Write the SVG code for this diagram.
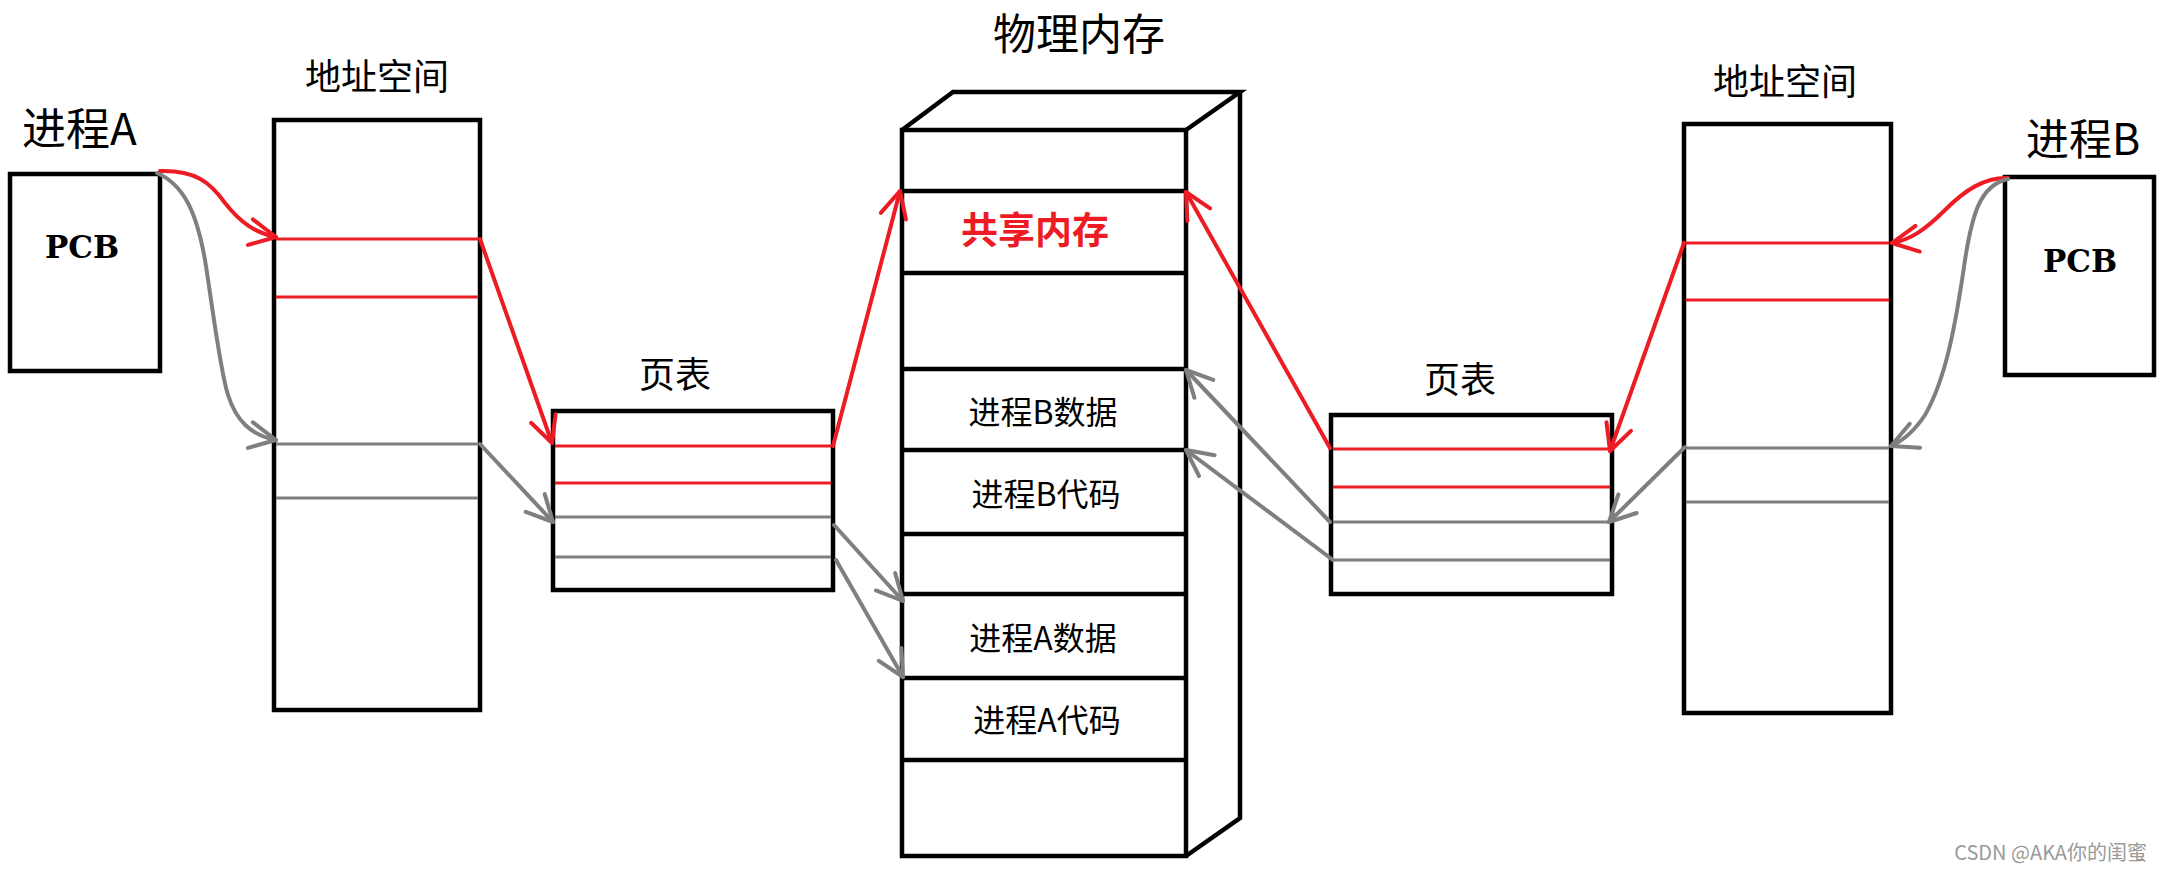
<svg xmlns="http://www.w3.org/2000/svg" width="2162" height="872" viewBox="0 0 2162 872">
<style>
.box{fill:none;stroke:#000;stroke-width:4.5;stroke-linejoin:miter}
.rl{stroke:#ED1C24;stroke-width:3}
.gl{stroke:#7F7F7F;stroke-width:3}
.ra{fill:none;stroke:#ED1C24;stroke-width:4;stroke-linecap:round;marker-end:url(#mr)}
.ga{fill:none;stroke:#7F7F7F;stroke-width:4;stroke-linecap:round;marker-end:url(#mg)}
.t{font-family:"Noto Sans CJK SC","Microsoft YaHei",sans-serif;fill:#000}
.pcb{font-family:"DejaVu Serif","Liberation Serif",serif;font-weight:bold;font-size:31px;fill:#000;text-anchor:middle}
</style>
<defs>
<marker id="mr" markerUnits="userSpaceOnUse" markerWidth="34" markerHeight="34" viewBox="0 0 34 34" refX="31" refY="17" orient="auto">
<path d="M5,4 L31,17 L5,30" fill="none" stroke="#ED1C24" stroke-width="4" stroke-linecap="round" stroke-linejoin="round"/>
</marker>
<marker id="mg" markerUnits="userSpaceOnUse" markerWidth="34" markerHeight="34" viewBox="0 0 34 34" refX="31" refY="17" orient="auto">
<path d="M5,4 L31,17 L5,30" fill="none" stroke="#7F7F7F" stroke-width="4" stroke-linecap="round" stroke-linejoin="round"/>
</marker>
</defs>
<rect width="2162" height="872" fill="#fff"/>

<g id="processA">
<text class="t" x="22" y="145" font-size="44">进程A</text>
<rect class="box" x="10" y="174" width="150" height="197"/>
<text class="pcb" x="82" y="258">PCB</text>
</g>

<g id="addrA">
<text class="t" x="377" y="90" font-size="36" text-anchor="middle">地址空间</text>
<rect class="box" x="274" y="120" width="206" height="590"/>
<line class="rl" x1="276" y1="239" x2="478" y2="239"/>
<line class="rl" x1="276" y1="297" x2="478" y2="297"/>
<line class="gl" x1="276" y1="444" x2="478" y2="444"/>
<line class="gl" x1="276" y1="498" x2="478" y2="498"/>
</g>

<g id="pageTableA">
<text class="t" x="675" y="388" font-size="36" text-anchor="middle">页表</text>
<rect class="box" x="553" y="411" width="280" height="179"/>
<line class="rl" x1="555" y1="446" x2="831" y2="446"/>
<line class="rl" x1="555" y1="483" x2="831" y2="483"/>
<line class="gl" x1="555" y1="517" x2="831" y2="517"/>
<line class="gl" x1="555" y1="557" x2="831" y2="557"/>
</g>

<g id="physMem">
<text class="t" x="1079" y="50" font-size="43" text-anchor="middle">物理内存</text>
<rect class="box" x="902" y="130" width="284" height="726"/>
<polyline class="box" points="902,130 953,92 1240,92 1186,130"/>
<polyline class="box" points="1240,92 1240,818 1186,856"/>
<g stroke="#000" stroke-width="4.5">
<line x1="902" y1="191" x2="1186" y2="191"/>
<line x1="902" y1="273" x2="1186" y2="273"/>
<line x1="902" y1="369" x2="1186" y2="369"/>
<line x1="902" y1="450" x2="1186" y2="450"/>
<line x1="902" y1="534" x2="1186" y2="534"/>
<line x1="902" y1="594" x2="1186" y2="594"/>
<line x1="902" y1="678" x2="1186" y2="678"/>
<line x1="902" y1="760" x2="1186" y2="760"/>
</g>
<text class="t" x="1035" y="244" font-size="37" font-weight="bold" style="fill:#ED1C24" text-anchor="middle">共享内存</text>
<text class="t" x="1043" y="424" font-size="32" text-anchor="middle">进程B数据</text>
<text class="t" x="1046" y="506" font-size="32" text-anchor="middle">进程B代码</text>
<text class="t" x="1043" y="650" font-size="32" text-anchor="middle">进程A数据</text>
<text class="t" x="1047" y="732" font-size="32" text-anchor="middle">进程A代码</text>
</g>

<g id="pageTableB">
<text class="t" x="1460" y="393" font-size="36" text-anchor="middle">页表</text>
<rect class="box" x="1331" y="415" width="281" height="179"/>
<line class="rl" x1="1333" y1="449" x2="1610" y2="449"/>
<line class="rl" x1="1333" y1="487" x2="1610" y2="487"/>
<line class="gl" x1="1333" y1="522" x2="1610" y2="522"/>
<line class="gl" x1="1333" y1="560" x2="1610" y2="560"/>
</g>

<g id="addrB">
<text class="t" x="1785" y="95" font-size="36" text-anchor="middle">地址空间</text>
<rect class="box" x="1684" y="124" width="207" height="589"/>
<line class="rl" x1="1686" y1="243" x2="1889" y2="243"/>
<line class="rl" x1="1686" y1="300" x2="1889" y2="300"/>
<line class="gl" x1="1686" y1="448" x2="1889" y2="448"/>
<line class="gl" x1="1686" y1="502" x2="1889" y2="502"/>
</g>

<g id="processB">
<text class="t" x="2026" y="155" font-size="43">进程B</text>
<rect class="box" x="2005" y="177" width="149" height="198"/>
<text class="pcb" x="2080" y="272">PCB</text>
</g>

<g id="connectors">
<path class="ra" d="M160,171 C195,170 210,182 225,203 C240,222 255,233 276,237"/>
<path class="ga" d="M157,173 C185,185 197,215 205,260 C213,310 220,370 228,395 C236,420 250,435 276,440"/>
<path class="ra" d="M480,239 L552,443"/>
<path class="ga" d="M480,444 L553,522"/>
<path class="ra" d="M833,446 L900,191"/>
<path class="ga" d="M834,525 L903,601"/>
<path class="ga" d="M836,560 L903,677"/>
<path class="ra" d="M1330,448 L1186,192"/>
<path class="ga" d="M1330,522 L1186,370"/>
<path class="ga" d="M1333,560 L1186,450"/>
<path class="ra" d="M1684,243 L1610,451"/>
<path class="ga" d="M1685,447 L1609,522"/>
<path class="ra" d="M2008,178 C1985,177 1965,190 1945,210 C1925,230 1910,240 1892,243"/>
<path class="ga" d="M2008,179 C1980,185 1972,215 1965,260 C1955,330 1945,380 1925,415 C1915,430 1905,440 1891,446"/>
</g>

<text x="2147" y="860" font-family="Noto Sans CJK SC, sans-serif" font-size="20" fill="#9a9a9a" text-anchor="end">CSDN @AKA你的闺蜜</text>
</svg>
